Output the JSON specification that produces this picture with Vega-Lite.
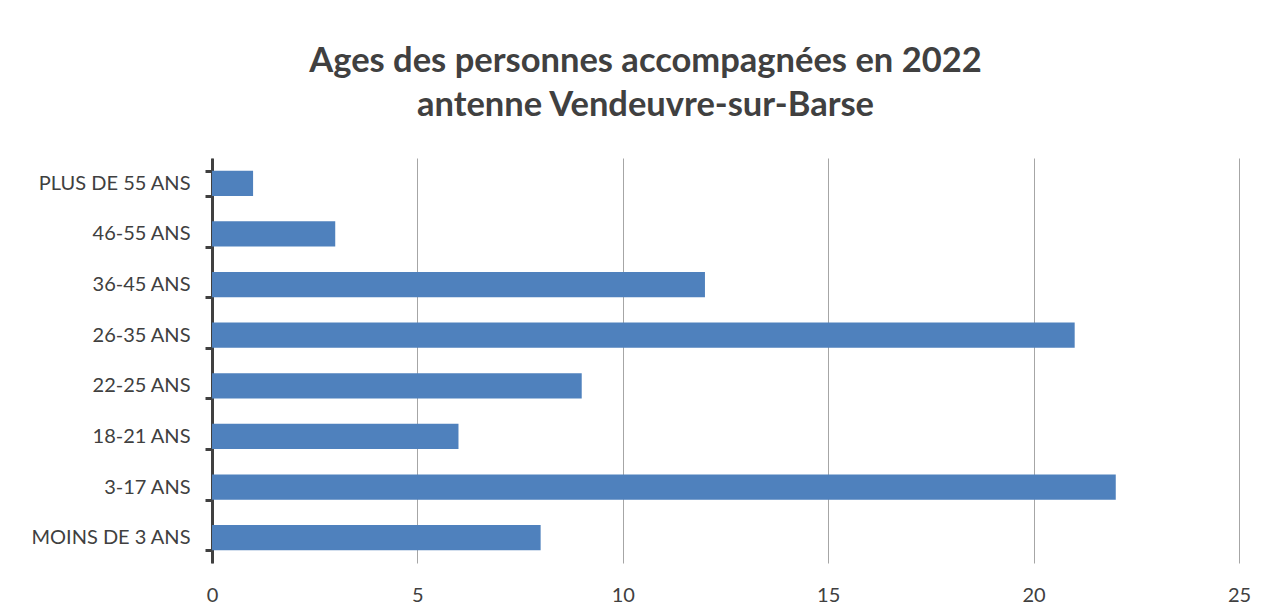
{
  "$schema": "https://vega.github.io/schema/vega-lite/v6.json",
  "width": 1027,
  "height": 405,
  "autosize": {"type": "none"},
  "padding": {"left": 212, "top": 158, "right": 30, "bottom": 53},
  "background": "white",
  "title": {
    "text": ["Ages des personnes accompagnées en 2022", "antenne Vendeuvre-sur-Barse"],
    "font": "Lato",
    "fontSize": 34.5,
    "fontWeight": "bold",
    "color": "#404040",
    "anchor": "middle",
    "dx": -80,
    "offset": 25,
    "lineHeight": 44
  },
  "data": {
    "values": [
      {"age": "PLUS DE 55 ANS", "n": 1},
      {"age": "46-55 ANS", "n": 3},
      {"age": "36-45 ANS", "n": 12},
      {"age": "26-35 ANS", "n": 21},
      {"age": "22-25 ANS", "n": 9},
      {"age": "18-21 ANS", "n": 6},
      {"age": "3-17 ANS", "n": 22},
      {"age": "MOINS DE 3 ANS", "n": 8}
    ]
  },
  "mark": {"type": "bar", "color": "#4f81bd"},
  "encoding": {
    "y": {
      "field": "age",
      "type": "nominal",
      "sort": null,
      "title": null,
      "scale": {"paddingInner": 0.5, "paddingOuter": 0.25},
      "axis": {
        "labelFont": "Lato",
        "labelFontSize": 20,
        "labelColor": "#404040",
        "labelPadding": 15,
        "domainColor": "#404040",
        "domainWidth": 3,
        "tickColor": "#404040",
        "tickWidth": 3,
        "tickSize": 7,
        "tickBand": "extent",
        "grid": false
      }
    },
    "x": {
      "field": "n",
      "type": "quantitative",
      "title": null,
      "scale": {"domain": [0, 25]},
      "axis": {
        "values": [0, 5, 10, 15, 20, 25],
        "labelFont": "Lato",
        "labelFontSize": 20,
        "labelColor": "#404040",
        "labelPadding": 22,
        "labelFlush": false,
        "domain": false,
        "ticks": false,
        "grid": true,
        "gridColor": "#a6a6a6",
        "gridWidth": 1
      }
    }
  },
  "config": {"view": {"stroke": null}}
}
